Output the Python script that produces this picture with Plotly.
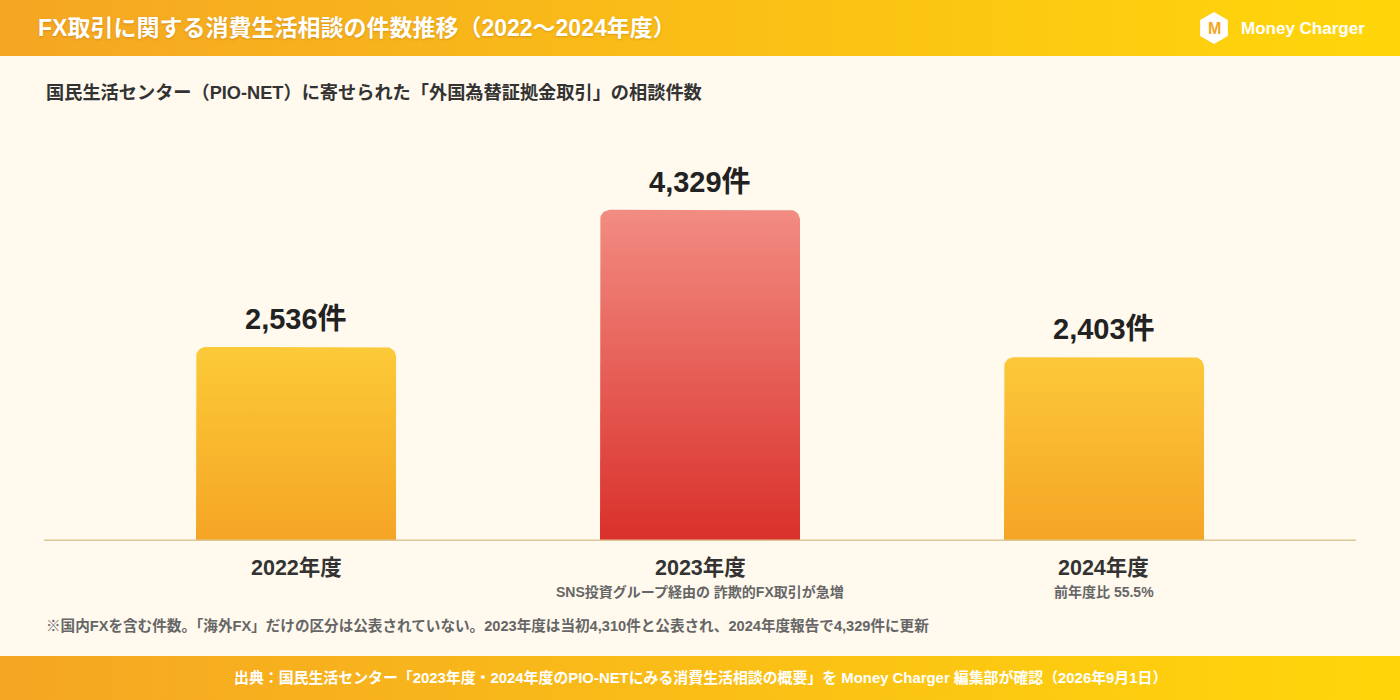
import base64
import numpy as np
import plotly.graph_objects as go

# ---------------- data ----------------
years = ["2022年度", "2023年度", "2024年度"]
counts = [2536, 4329, 2403]
value_labels = ["2,536件", "4,329件", "2,403件"]
notes = ["", "SNS投資グループ経由の 詐欺的FX取引が急増", "前年度比 55.5%"]
top_colors = ["#FCCA38", "#F28C82", "#FCC83A"]
bottom_colors = ["#F5A524", "#D9302A", "#F5A524"]

title_text = "FX取引に関する消費生活相談の件数推移（2022〜2024年度）"
subtitle_text = "国民生活センター（PIO-NET）に寄せられた「外国為替証拠金取引」の相談件数"
footnote_text = "※国内FXを含む件数。「海外FX」だけの区分は公表されていない。2023年度は当初4,310件と公表され、2024年度報告で4,329件に更新"
source_text = "出典：国民生活センター「2023年度・2024年度のPIO-NETにみる消費生活相談の概要」を Money Charger 編集部が確認（2026年9月1日）"
brand_text = "Money Charger"

# ---------------- geometry ----------------
W, H = 1400, 700
PX_L, PX_R = 44, 1356
PY_TOP, PY_BOT = 120, 541
X_RANGE = [-0.6238, 2.6238]
px_per_x = (PX_R - PX_L) / (X_RANGE[1] - X_RANGE[0])
px_per_y = 0.0765
Y_MAX = (PY_BOT - PY_TOP) / px_per_y

FONT = "Liberation Sans, Noto Sans CJK JP, sans-serif"


def px(x):
    return x / W


def py(y):
    return 1 - y / H


def grad_svg(c1, c2):
    svg = (
        '<svg xmlns="http://www.w3.org/2000/svg" width="1400" height="56" '
        'preserveAspectRatio="none" viewBox="0 0 1400 56">'
        '<defs><linearGradient id="g" x1="0" y1="0" x2="1" y2="0">'
        f'<stop offset="0" stop-color="{c1}"/><stop offset="1" stop-color="{c2}"/>'
        '</linearGradient></defs><rect width="1400" height="56" fill="url(#g)"/></svg>'
    )
    return "data:image/svg+xml;base64," + base64.b64encode(svg.encode()).decode()


def bar_path(c, v, half_px=100, r_px=10, n=12):
    hw = half_px / px_per_x
    rx = r_px / px_per_x
    ry = r_px / px_per_y
    xs, ys = [c - hw], [0]
    for t in np.linspace(np.pi, np.pi / 2, n):
        xs.append(c - hw + rx + rx * np.cos(t))
        ys.append(v - ry + ry * np.sin(t))
    for t in np.linspace(np.pi / 2, 0, n):
        xs.append(c + hw - rx + rx * np.cos(t))
        ys.append(v - ry + ry * np.sin(t))
    xs += [c + hw, c - hw]
    ys += [0, 0]
    return xs, ys


fig = go.Figure()

for i, v in enumerate(counts):
    xs, ys = bar_path(i, v)
    fig.add_trace(go.Scatter(
        x=xs, y=ys, mode="lines", fill="toself",
        line=dict(width=0, color=top_colors[i]),
        fillgradient=dict(type="vertical",
                          colorscale=[[0, bottom_colors[i]], [1, top_colors[i]]]),
        hoverinfo="skip", showlegend=False,
    ))

annotations = []
for i, v in enumerate(counts):
    annotations.append(dict(
        x=i, y=v, xref="x", yref="y", text=f"<b>{value_labels[i]}</b>",
        showarrow=False, yanchor="bottom", yshift=10,
        font=dict(family=FONT, size=29, color="#222222"),
    ))
    annotations.append(dict(
        x=i, y=py(568), xref="x", yref="paper", text=f"<b>{years[i]}</b>",
        showarrow=False, yanchor="middle",
        font=dict(family=FONT, size=21.5, color="#333333"),
    ))
    if notes[i]:
        annotations.append(dict(
            x=i, y=py(592), xref="x", yref="paper", text=f"<b>{notes[i]}</b>",
            showarrow=False, yanchor="middle",
            font=dict(family=FONT, size=14, color="#666666"),
        ))

annotations += [
    dict(x=px(36), y=py(28), xref="paper", yref="paper", text=f"<b>{title_text}</b>",
         showarrow=False, xanchor="left", yanchor="middle",
         font=dict(family=FONT, size=23, color="#FFFFFF",
                   shadow="0px 1px 2px rgba(120,60,0,0.25)")),
    dict(x=px(1214), y=py(29), xref="paper", yref="paper", text="<b>M</b>",
         showarrow=False, xanchor="center", yanchor="middle",
         font=dict(family=FONT, size=16, color="#F5A623")),
    dict(x=px(1239), y=py(28), xref="paper", yref="paper", text=f"<b>{brand_text}</b>",
         showarrow=False, xanchor="left", yanchor="middle",
         font=dict(family=FONT, size=17, color="#FFFFFF")),
    dict(x=px(44), y=py(93), xref="paper", yref="paper", text=f"<b>{subtitle_text}</b>",
         showarrow=False, xanchor="left", yanchor="middle",
         font=dict(family=FONT, size=18.2, color="#333333")),
    dict(x=px(44), y=py(625), xref="paper", yref="paper", text=f"<b>{footnote_text}</b>",
         showarrow=False, xanchor="left", yanchor="middle",
         font=dict(family=FONT, size=14.6, color="#666666")),
    dict(x=px(700), y=py(677), xref="paper", yref="paper", text=f"<b>{source_text}</b>",
         showarrow=False, xanchor="center", yanchor="middle",
         font=dict(family=FONT, size=14.9, color="#FFFFFF")),
]

# hexagon logo
cx, cy, R = 1214, 28, 16
pts = []
for k in range(6):
    a = np.pi / 2 + k * np.pi / 3
    pts.append((px(cx + R * np.cos(a)), py(cy - R * np.sin(a))))
hex_path = "M " + " L ".join(f"{x:.5f},{y:.5f}" for x, y in pts) + " Z"

shapes = [
    dict(type="line", xref="paper", yref="y", x0=px(PX_L), x1=px(PX_R), y0=0, y1=0,
         line=dict(color="#DCC897", width=3), layer="above"),
    dict(type="path", xref="paper", yref="paper", path=hex_path,
         fillcolor="#FFFFFF", line=dict(width=0), layer="above"),
]

images = [
    dict(source=grad_svg("#F5A623", "#FFD60A"), xref="paper", yref="paper",
         x=0, y=1, sizex=1, sizey=56 / H, sizing="stretch", xanchor="left",
         yanchor="top", layer="below"),
    dict(source=grad_svg("#F5A623", "#FFD60A"), xref="paper", yref="paper",
         x=0, y=44 / H, sizex=1, sizey=44 / H, sizing="stretch", xanchor="left",
         yanchor="top", layer="below"),
]

fig.update_layout(
    width=W, height=H,
    margin=dict(l=0, r=0, t=0, b=0),
    paper_bgcolor="#FFF9EE",
    plot_bgcolor="rgba(0,0,0,0)",
    xaxis=dict(range=X_RANGE, domain=[px(PX_L), px(PX_R)], visible=False, fixedrange=True),
    yaxis=dict(range=[0, Y_MAX], domain=[py(PY_BOT), py(PY_TOP)], visible=False, fixedrange=True),
    annotations=annotations,
    shapes=shapes,
    images=images,
    showlegend=False,
)

fig.write_html("out.html", post_script="document.body.style.margin='0';",
               config={"displayModeBar": False})
